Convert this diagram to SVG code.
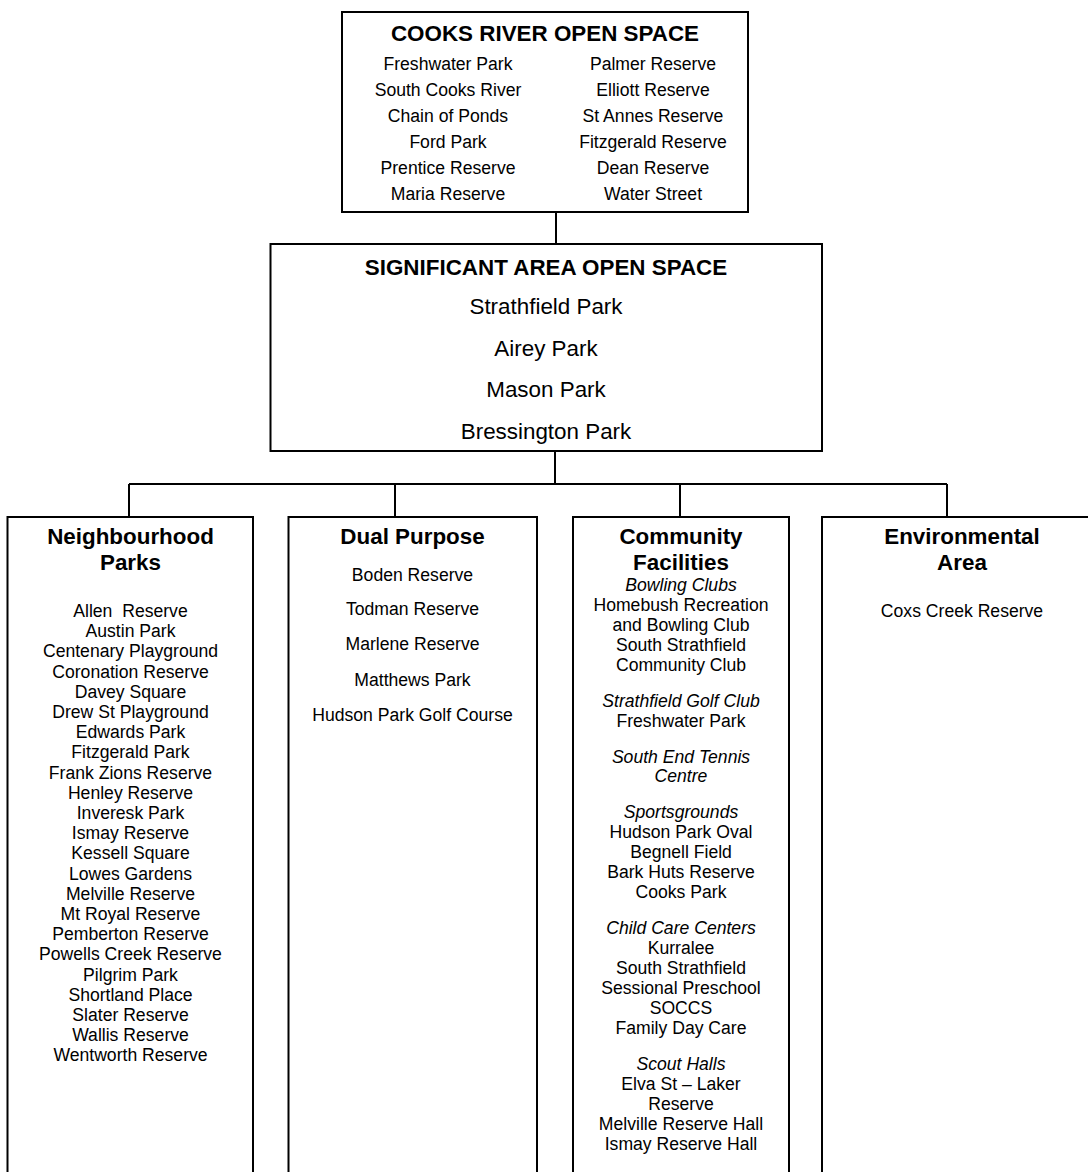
<svg xmlns="http://www.w3.org/2000/svg" width="1088" height="1172" viewBox="0 0 1088 1172">
<style>
.box{fill:#fff;stroke:#000;stroke-width:2}
.con{fill:none;stroke:#000;stroke-width:2}
text{font-family:"Liberation Sans",Arial,sans-serif;fill:#000;text-anchor:middle}
.h{font-weight:bold;font-size:22.4px}
.big{font-size:22.4px}
.it{font-size:17.6px}
.i{font-style:italic}
</style>
<rect width="1088" height="1172" fill="#fff"/>
<g id="connectors">
<path class="con" d="M556 212V244"/>
<path class="con" d="M555 451V484M129 484H947M129 484V517M395 484V517M680 484V517M947 484V517"/>
</g>
<g id="cooks-river">
<rect class="box" x="342" y="12" width="406" height="200"/>
<text class="h" x="545" y="41">COOKS RIVER OPEN SPACE</text>
<g class="it">
<text class="it" x="448" y="70">Freshwater Park</text>
<text class="it" x="448" y="96">South Cooks River</text>
<text class="it" x="448" y="122">Chain of Ponds</text>
<text class="it" x="448" y="148">Ford Park</text>
<text class="it" x="448" y="174">Prentice Reserve</text>
<text class="it" x="448" y="200">Maria Reserve</text>
<text class="it" x="653" y="70">Palmer Reserve</text>
<text class="it" x="653" y="96">Elliott Reserve</text>
<text class="it" x="653" y="122">St Annes Reserve</text>
<text class="it" x="653" y="148">Fitzgerald Reserve</text>
<text class="it" x="653" y="174">Dean Reserve</text>
<text class="it" x="653" y="200">Water Street</text>
</g>
</g>
<g id="significant">
<rect class="box" x="270.5" y="244" width="551.5" height="207"/>
<text class="h" x="546" y="275">SIGNIFICANT AREA OPEN SPACE</text>
<text class="big" x="546" y="314">Strathfield Park</text>
<text class="big" x="546" y="356">Airey Park</text>
<text class="big" x="546" y="397">Mason Park</text>
<text class="big" x="546" y="439">Bressington Park</text>
</g>
<g id="neighbourhood">
<rect class="box" x="7.5" y="517" width="245.5" height="700"/>
<text class="h" x="130.5" y="544">Neighbourhood</text>
<text class="h" x="130.5" y="570">Parks</text>
<text class="it" x="130.5" y="617" xml:space="preserve">Allen  Reserve</text>
<text class="it" x="130.5" y="637.2">Austin Park</text>
<text class="it" x="130.5" y="657.4">Centenary Playground</text>
<text class="it" x="130.5" y="677.6">Coronation Reserve</text>
<text class="it" x="130.5" y="697.8">Davey Square</text>
<text class="it" x="130.5" y="718">Drew St Playground</text>
<text class="it" x="130.5" y="738.2">Edwards Park</text>
<text class="it" x="130.5" y="758.4">Fitzgerald Park</text>
<text class="it" x="130.5" y="778.6">Frank Zions Reserve</text>
<text class="it" x="130.5" y="798.8">Henley Reserve</text>
<text class="it" x="130.5" y="819">Inveresk Park</text>
<text class="it" x="130.5" y="839.2">Ismay Reserve</text>
<text class="it" x="130.5" y="859.4">Kessell Square</text>
<text class="it" x="130.5" y="879.6">Lowes Gardens</text>
<text class="it" x="130.5" y="899.8">Melville Reserve</text>
<text class="it" x="130.5" y="920">Mt Royal Reserve</text>
<text class="it" x="130.5" y="940.2">Pemberton Reserve</text>
<text class="it" x="130.5" y="960.4">Powells Creek Reserve</text>
<text class="it" x="130.5" y="980.6">Pilgrim Park</text>
<text class="it" x="130.5" y="1000.8">Shortland Place</text>
<text class="it" x="130.5" y="1021">Slater Reserve</text>
<text class="it" x="130.5" y="1041.2">Wallis Reserve</text>
<text class="it" x="130.5" y="1061.4">Wentworth Reserve</text>
</g>
<g id="dual-purpose">
<rect class="box" x="288.5" y="517" width="248.5" height="700"/>
<text class="h" x="412.5" y="544">Dual Purpose</text>
<text class="it" x="412.5" y="581">Boden Reserve</text>
<text class="it" x="412.5" y="615">Todman Reserve</text>
<text class="it" x="412.5" y="650">Marlene Reserve</text>
<text class="it" x="412.5" y="686">Matthews Park</text>
<text class="it" x="412.5" y="721">Hudson Park Golf Course</text>
</g>
<g id="community">
<rect class="box" x="573" y="517" width="216" height="700"/>
<text class="h" x="681" y="544">Community</text>
<text class="h" x="681" y="570">Facilities</text>
<text class="it i" x="681" y="591">Bowling Clubs</text>
<text class="it" x="681" y="611">Homebush Recreation</text>
<text class="it" x="681" y="631">and Bowling Club</text>
<text class="it" x="681" y="651">South Strathfield</text>
<text class="it" x="681" y="671">Community Club</text>
<text class="it i" x="681" y="707">Strathfield Golf Club</text>
<text class="it" x="681" y="727">Freshwater Park</text>
<text class="it i" x="681" y="763">South End Tennis</text>
<text class="it i" x="681" y="782">Centre</text>
<text class="it i" x="681" y="818">Sportsgrounds</text>
<text class="it" x="681" y="838">Hudson Park Oval</text>
<text class="it" x="681" y="858">Begnell Field</text>
<text class="it" x="681" y="878">Bark Huts Reserve</text>
<text class="it" x="681" y="898">Cooks Park</text>
<text class="it i" x="681" y="934">Child Care Centers</text>
<text class="it" x="681" y="954">Kurralee</text>
<text class="it" x="681" y="974">South Strathfield</text>
<text class="it" x="681" y="994">Sessional Preschool</text>
<text class="it" x="681" y="1014">SOCCS</text>
<text class="it" x="681" y="1034">Family Day Care</text>
<text class="it i" x="681" y="1070">Scout Halls</text>
<text class="it" x="681" y="1090">Elva St – Laker</text>
<text class="it" x="681" y="1110">Reserve</text>
<text class="it" x="681" y="1130">Melville Reserve Hall</text>
<text class="it" x="681" y="1150">Ismay Reserve Hall</text>
</g>
<g id="environmental">
<rect class="box" x="822" y="517" width="280" height="700"/>
<text class="h" x="962" y="544">Environmental</text>
<text class="h" x="962" y="570">Area</text>
<text class="it" x="962" y="617">Coxs Creek Reserve</text>
</g>
</svg>
